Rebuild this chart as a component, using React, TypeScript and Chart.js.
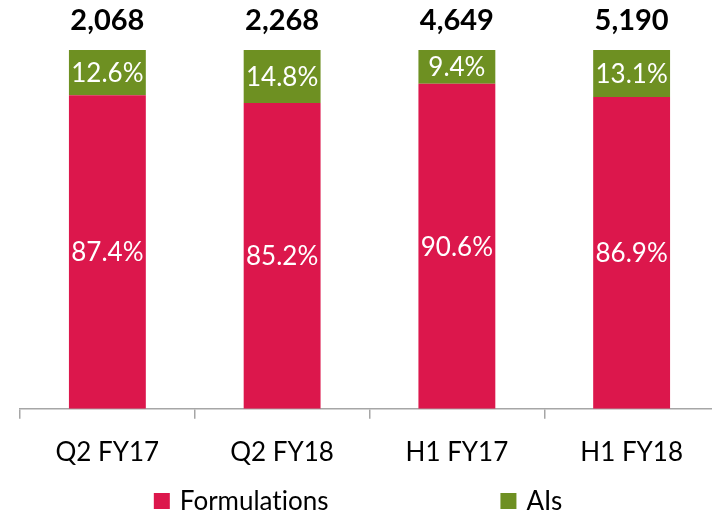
import React, { useEffect, useRef } from "react";
import { Chart, registerables } from "chart.js";

Chart.register(...registerables);

const categories = ["Q2 FY17", "Q2 FY18", "H1 FY17", "H1 FY18"];
const formulations = [87.4, 85.2, 90.6, 86.9];
const ais = [12.6, 14.8, 9.4, 13.1];
const totals = ["2,068", "2,268", "4,649", "5,190"];

const RED = "#DC174C";
const GREEN = "#6E9022";
const FONT = "Lato, 'Open Sans', sans-serif";

const labelPlugin = {
  id: "labels",
  afterDatasetsDraw(chart: any) {
    const ctx = chart.ctx;
    ctx.save();
    ctx.textAlign = "center";
    ctx.textBaseline = "middle";
    chart.data.datasets.forEach((ds: any, di: number) => {
      const meta = chart.getDatasetMeta(di);
      meta.data.forEach((bar: any, i: number) => {
        const v = ds.data[i];
        ctx.fillStyle = "#ffffff";
        ctx.font = `26px ${FONT}`;
        ctx.fillText(v.toFixed(1) + "%", bar.x, (bar.y + bar.base) / 2 + 1);
      });
    });
    const last = chart.getDatasetMeta(chart.data.datasets.length - 1);
    last.data.forEach((bar: any, i: number) => {
      ctx.fillStyle = "#000000";
      ctx.font = `bold 29px ${FONT}`;
      ctx.fillText(totals[i], bar.x, bar.y - 29);
    });
    ctx.restore();
  },
  afterDraw(chart: any) {
    const ctx = chart.ctx;
    ctx.save();
    (ctx as any).textRendering = "optimizeSpeed";
    ctx.font = `26px ${FONT}`;
    ctx.textBaseline = "middle";
    ctx.textAlign = "left";
    const box = 16;
    const gapText = 10;
    const gapItems = 172;
    const items = chart.data.datasets.map((ds: any) => ({
      label: ds.label,
      color: ds.backgroundColor,
      w: box + gapText + ctx.measureText(ds.label).width,
    }));
    const total = items.reduce((s: number, it: any) => s + it.w, 0) + gapItems * (items.length - 1);
    let x = 358 - total / 2;
    const y = 501;
    items.forEach((it: any) => {
      ctx.fillStyle = it.color;
      ctx.fillRect(x, y - box / 2, box, box);
      ctx.fillStyle = "#000";
      ctx.fillText(it.label, x + box + gapText, y + 1);
      x += it.w + gapItems;
    });
    ctx.restore();
  },
};

export default function App() {
  const ref = useRef<HTMLCanvasElement>(null);
  useEffect(() => {
    document.body.style.margin = "0";
    document.body.style.overflow = "hidden";
    const chart = new Chart(ref.current!, {
      type: "bar",
      data: {
        labels: categories,
        datasets: [
          { label: "Formulations", data: formulations, backgroundColor: RED, barPercentage: 0.88, categoryPercentage: 0.5 },
          { label: "AIs", data: ais, backgroundColor: GREEN, barPercentage: 0.88, categoryPercentage: 0.5 },
        ],
      },
      options: {
        animation: false,
        responsive: false,
        maintainAspectRatio: false,
        layout: { padding: { left: 20, right: 11, top: 50, bottom: 27 } },
        plugins: {
          tooltip: { enabled: false },
          legend: { display: false },
        },
        scales: {
          x: {
            stacked: true,
            offset: true,
            border: { display: true, color: "#A6A6A6", width: 1.5 },
            grid: {
              offset: true,
              drawOnChartArea: false,
              drawTicks: true,
              tickLength: 10,
              color: "#A6A6A6",
              lineWidth: 1.5,
            },
            ticks: { color: "#000", font: { family: FONT, size: 26 }, padding: 18 },
          },
          y: { stacked: true, display: false, min: 0, max: 100 },
        },
      },
      plugins: [labelPlugin],
    });
    return () => chart.destroy();
  }, []);
  return (
    <div style={{ width: 712, height: 513, overflow: "hidden", position: "relative" }}>
      <canvas ref={ref} width={730} height={513} style={{ display: "block" }} />
    </div>
  );
}
